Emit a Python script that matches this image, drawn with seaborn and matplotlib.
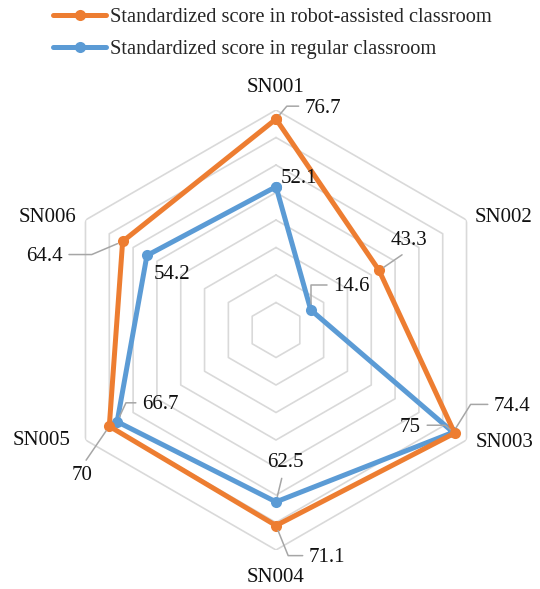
import numpy as np
import pandas as pd
import matplotlib
matplotlib.use("Agg")
import matplotlib.pyplot as plt
from matplotlib.lines import Line2D
import seaborn as sns

# Students and their standardized scores
students = ["SN001", "SN002", "SN003", "SN004", "SN005", "SN006"]
robot_scores = [76.7, 43.3, 75, 71.1, 70, 64.4]
regular_scores = [52.1, 14.6, 74.4, 62.5, 66.7, 54.2]
series_names = ["Standardized score in robot-assisted classroom",
                "Standardized score in regular classroom"]
ring_levels = [10, 20, 30, 40, 50, 60, 70, 80]

ORANGE = "#ED7D31"
BLUE = "#5B9BD5"
GRID = "#D9D9D9"
LEADER = "#A6A6A6"

sns.set_theme(style="white")
plt.rcParams["font.family"] = ["Liberation Serif", "DejaVu Serif"]

fig = plt.figure(figsize=(5.40, 5.89), dpi=100)
ax = fig.add_axes([56 / 540, 39 / 589, 440 / 540, 440 / 589], projection="polar")
ax.set_theta_zero_location("N")
ax.set_theta_direction(-1)
ax.set_ylim(0, 80)
ax.grid(False)
ax.spines["polar"].set_visible(False)
ax.set_xticks([])
ax.set_yticks([])
ax.set_facecolor("none")

n = len(students)
theta = np.linspace(0, 2 * np.pi, n, endpoint=False)
theta_closed = np.append(theta, theta[0] + 2 * np.pi)

# Hexagonal rings
for lvl in ring_levels:
    ax.plot(theta_closed, [lvl] * (n + 1), color=GRID, lw=1.2, zorder=1)


def frame(values):
    return pd.DataFrame({"theta": theta_closed, "score": list(values) + [values[0]]})


common = dict(x="theta", y="score", sort=False, estimator=None, marker="o",
              markersize=8, markeredgewidth=0, linewidth=3.6, ax=ax)
sns.lineplot(data=frame(regular_scores), color=BLUE, zorder=3, **common)
sns.lineplot(data=frame(robot_scores), color=ORANGE, zorder=4, **common)
ax.set_xlabel("")
ax.set_ylabel("")
ax.set_ylim(0, 80)

# Category labels around the outer ring
cat_offsets = [(0, 22), (37, 3), (38, -3), (0, -28), (-44, 0), (-38, 3)]
for th, name, off in zip(theta, students, cat_offsets):
    ax.annotate(name, xy=(th, 80), xytext=off, textcoords="offset pixels",
                ha="center", va="center", fontsize=15, color="#111111")

# Data labels: (offset, relpos, connection style or None for no leader)
robot_lbl = [
    ((47, 11), (0, 0.6), "angle,angleA=0,angleB=50,rad=0"),
    ((30, 30), (0.5, 0), "arc3"),
    ((-44, 6), (1, 0.6), "angle,angleA=0,angleB=-40,rad=0"),
    ((51, -32), (0, 0.6), "angle,angleA=0,angleB=112,rad=0"),
    ((-27, -49), (0.5, 1), "arc3"),
    ((-78, -15), (1, 0.6), "angle,angleA=0,angleB=23,rad=0"),
]
regular_lbl = [
    ((23, 8), None, None),
    ((41, 23), (0, 0.6), "angle,angleA=0,angleB=90,rad=0"),
    ((59, 26), (0, 0.6), "angle,angleA=0,angleB=58,rad=0"),
    ((9, 39), (0.45, 0), "arc3"),
    ((43, 17), (0, 0.6), "angle,angleA=0,angleB=65,rad=0"),
    ((25, -19), None, None),
]


def label_series(values, specs):
    for th, v, (off, rel, conn) in zip(theta, values, specs):
        kw = {}
        if conn is not None:
            kw["arrowprops"] = dict(arrowstyle="-", color=LEADER, lw=1.1,
                                    shrinkA=2, shrinkB=4, relpos=rel,
                                    connectionstyle=conn)
        ax.annotate(f"{v:g}", xy=(th, v), xytext=off, textcoords="offset pixels",
                    ha="center", va="center", fontsize=15, color="#111111",
                    zorder=6, **kw)


label_series(robot_scores, robot_lbl)
label_series(regular_scores, regular_lbl)

handles = [
    Line2D([], [], color=ORANGE, lw=3.6, marker="o", markersize=8, markeredgewidth=0),
    Line2D([], [], color=BLUE, lw=3.6, marker="o", markersize=8, markeredgewidth=0),
]
fig.legend(handles, series_names, loc="upper left", bbox_to_anchor=(41 / 540, 1.007),
           frameon=False, fontsize=14.7, handlelength=2.6, handletextpad=0.2,
           labelspacing=0.6, borderaxespad=0.2)

fig.savefig("out.png", dpi=100)
